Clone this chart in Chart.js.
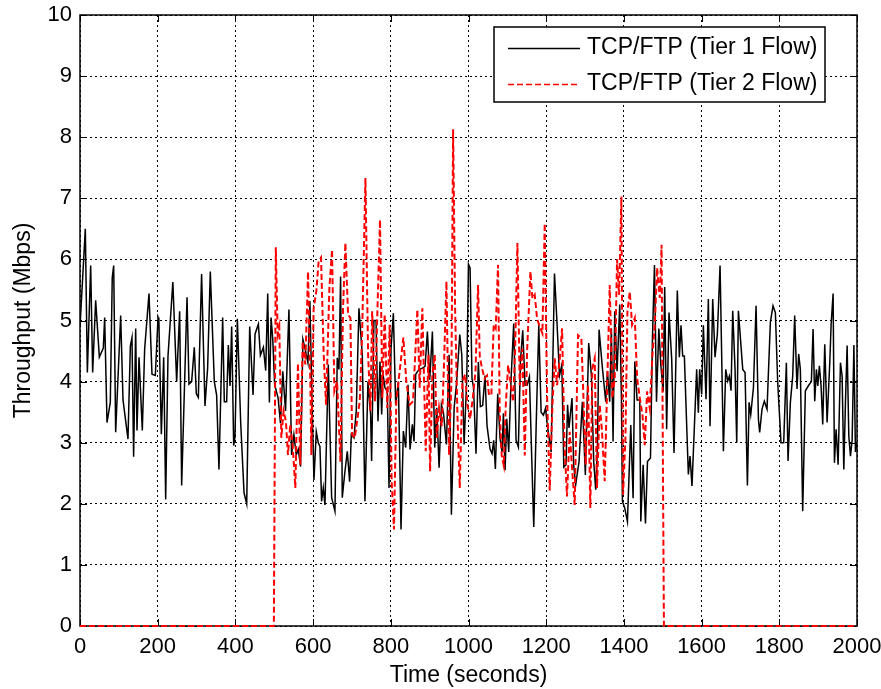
<!DOCTYPE html>
<html>
<head>
<meta charset="utf-8">
<script src="https://cdn.jsdelivr.net/npm/chart.js@4/dist/chart.umd.min.js"></script>
<style>
  html, body { margin: 0; padding: 0; background: #fff; }
  #wrap { width: 881px; height: 689px; }
</style>
</head>
<body>
<div id="wrap"><canvas id="grafico" width="881" height="689"></canvas></div>
<script>
// Tier 1 flow (black), runs the whole 2000 s
const tier1Times = [0, 13.7, 18.9, 27.5, 32.6, 40.3, 49.8, 60, 63.5, 69.5, 78, 83, 86.7, 91.8, 104.7, 110.7, 123.5, 129.6, 133.8, 138, 143.3, 146.7, 151.9, 160.4, 166.4, 177.6, 185.3, 193.9, 200.8, 203, 209.4, 215.4, 220.5, 226.5, 239, 248.8, 256.5, 261.7, 275.5, 280.5, 287.4, 294.2, 299.4, 304.6, 313, 321.7, 328.5, 335.4, 345.7, 351.7, 357.7, 367.2, 371.5, 377.5, 381.8, 386.1, 390.4, 395.6, 399, 405, 413.6, 422.2, 429.1, 436.8, 445.4, 450.6, 459.2, 464.3, 472, 478, 483.2, 487.5, 491.8, 496.1, 501, 510, 516, 522, 529, 537.8, 544.6, 550.6, 556.6, 561.8, 567.8, 573.8, 580.7, 586.7, 591.8, 596.1, 602.2, 608.2, 613.3, 617.6, 621.9, 626.2, 630.5, 639.1, 647.7, 656.2, 662.2, 666.5, 670.8, 675.1, 681.1, 688, 694, 698.3, 705.1, 711.1, 718, 726.6, 733.5, 741.2, 748, 750.6, 756.6, 762, 767, 772.2, 776.5, 780, 785, 791, 795.4, 800.6, 806.6, 812.6, 819.5, 826.3, 832.3, 838.3, 844.3, 849.5, 855.5, 859.8, 864.1, 872.7, 881.3, 888.2, 894.2, 900.2, 907.1, 913.1, 918.3, 924.3, 930.3, 935.5, 943.2, 950, 956, 963, 969, 977.5, 982.7, 988.7, 995.6, 999.9, 1004, 1009, 1013, 1019.3, 1025.4, 1030.5, 1036.5, 1042.5, 1047.7, 1055.4, 1060.6, 1064.9, 1069.2, 1075.2, 1081.2, 1086.4, 1089.8, 1094.1, 1098.4, 1103.5, 1109.6, 1116.4, 1122.4, 1128.4, 1133.6, 1139.6, 1145.6, 1150.8, 1156.8, 1162.8, 1168, 1174, 1180.9, 1186.9, 1192.9, 1198.1, 1204.1, 1212.7, 1221.3, 1227.3, 1234.2, 1240.2, 1245.3, 1251, 1255, 1258.7, 1266.4, 1270.7, 1275.9, 1284.5, 1293.1, 1300.8, 1309.4, 1316.3, 1322.3, 1327.5, 1331.8, 1336.1, 1344.7, 1353.3, 1357.6, 1363.5, 1367.8, 1372.1, 1376.4, 1382.4, 1389.3, 1393.6, 1396.2, 1402.2, 1409.1, 1417.7, 1423.7, 1428, 1434, 1440.9, 1443.5, 1449.5, 1455.5, 1460.7, 1468.4, 1473.5, 1478.7, 1483.9, 1489.9, 1495.1, 1501, 1505, 1510, 1516.1, 1523, 1529, 1537.5, 1542.7, 1547, 1551.3, 1555.6, 1565.9, 1570.2, 1575.3, 1587.3, 1591.6, 1595, 1600.2, 1604.5, 1611.4, 1617.4, 1621.7, 1628.6, 1634.6, 1640.6, 1647.5, 1656.1, 1662.1, 1667.2, 1671.5, 1675.8, 1680.1, 1686.1, 1690.4, 1694.7, 1705.9, 1711.9, 1717.9, 1722.2, 1726.5, 1733.4, 1740.2, 1746.3, 1749.5, 1755.5, 1761.5, 1768.4, 1777, 1783.8, 1789.9, 1795.8, 1804.4, 1811.3, 1818.2, 1822.5, 1828.5, 1834.5, 1839.6, 1845.6, 1849.9, 1854.2, 1860.2, 1867.1, 1875.7, 1882.6, 1886.9, 1891.2, 1895.5, 1899, 1903.2, 1907.5, 1911.8, 1917, 1923, 1929.9, 1933.4, 1938.5, 1941.9, 1946.2, 1951.4, 1957.4, 1961.7, 1966, 1970.3, 1974.6, 1978.9, 1983.2, 1987.5, 1992, 1996, 2000];
const tier1Values = [4.9, 6.5, 4.15, 5.9, 4.15, 5.33, 4.4, 4.55, 5.05, 3.33, 3.66, 5.7, 5.9, 3.17, 5.08, 3.7, 3.06, 4.58, 4.72, 2.77, 4.87, 3.2, 4.4, 3.2, 4.53, 5.44, 4.12, 4.1, 5.05, 5.0, 3.14, 4.4, 2.07, 4.42, 5.63, 4.0, 5.15, 2.3, 5.38, 3.96, 4.0, 4.56, 3.8, 3.74, 5.76, 3.6, 4.22, 5.8, 4.0, 3.78, 2.56, 5.05, 3.67, 3.67, 4.6, 3.93, 4.9, 2.95, 3.1, 5.03, 3.33, 2.18, 2.0, 4.9, 3.78, 4.78, 4.94, 4.43, 4.56, 4.18, 5.44, 3.66, 5.05, 4.7, 3.95, 3.73, 3.32, 4.17, 3.52, 5.18, 2.8, 3.13, 2.8, 2.89, 2.61, 4.69, 4.5, 4.31, 5.32, 4.0, 2.39, 3.18, 3.0, 2.94, 2.04, 2.26, 1.98, 4.28, 2.1, 1.88, 4.39, 4.2, 5.72, 2.1, 2.48, 2.86, 2.36, 3.13, 3.08, 3.52, 5.2, 4.44, 2.04, 4.0, 3.46, 2.7, 5.0, 5.0, 3.35, 4.33, 3.46, 4.12, 3.9, 3.84, 2.26, 4.55, 5.12, 3.62, 4.0, 1.58, 3.19, 2.92, 3.95, 2.89, 3.3, 3.02, 4.12, 4.2, 4.22, 4.25, 4.82, 4.03, 4.82, 2.92, 3.57, 2.59, 3.62, 3.49, 2.97, 4.44, 1.82, 3.57, 3.95, 4.77, 4.44, 2.97, 4.06, 5.92, 5.86, 4.05, 3.9, 2.82, 4.32, 3.59, 3.61, 4.1, 3.28, 2.9, 2.82, 3.04, 2.57, 3.8, 3.07, 2.85, 3.48, 2.55, 3.39, 2.85, 4.05, 4.95, 3.04, 2.93, 4.32, 4.84, 3.94, 3.94, 4.08, 2.74, 1.62, 3.23, 4.93, 3.5, 3.45, 3.56, 3.23, 2.85, 5.77, 5.03, 4.1, 4.27, 2.6, 2.64, 3.62, 3.24, 3.73, 2.64, 2.31, 2.69, 3.67, 2.47, 4.63, 4.11, 2.69, 2.23, 2.91, 4.85, 4.22, 3.67, 4.17, 3.67, 4.87, 3.02, 5.15, 4.17, 5.26, 3.73, 2.04, 1.93, 1.71, 3.29, 2.09, 4.33, 3.7, 3.7, 1.71, 2.64, 1.68, 2.69, 2.75, 4.71, 5.91, 3.67, 4.87, 4.27, 3.84, 5.55, 3.22, 5.13, 4.37, 2.83, 5.49, 4.4, 4.92, 4.42, 4.42, 2.48, 2.78, 2.29, 4.2, 3.49, 4.2, 3.79, 4.92, 3.71, 5.35, 3.27, 5.35, 4.4, 4.78, 5.9, 2.86, 4.2, 4.01, 4.09, 3.85, 5.16, 4.2, 3.0, 5.16, 4.2, 4.15, 2.3, 3.66, 3.46, 3.9, 5.24, 3.38, 3.17, 3.55, 3.68, 3.55, 4.97, 5.24, 5.13, 4.0, 3.0, 3.0, 4.31, 2.7, 3.66, 4.09, 5.08, 3.88, 4.45, 4.2, 1.88, 3.85, 3.94, 4.0, 4.86, 3.68, 4.2, 3.93, 4.26, 3.93, 3.3, 4.61, 3.33, 4.31, 4.94, 5.44, 2.67, 3.22, 2.64, 4.31, 4.09, 2.56, 3.66, 4.59, 3.11, 2.78, 3.05, 4.6, 2.85, 3.0];

// Tier 2 flow (red dashed), active between 500 s and 1500 s
const tier2Times = [0, 499, 504, 508.8, 513, 518.2, 524, 530, 535.3, 541.2, 547.3, 554.3, 561, 567, 573.2, 580, 587, 593, 595.4, 601.4, 608.4, 614.3, 620.4, 627.3, 633.3, 641.9, 648.8, 654.8, 661.7, 670.3, 677.1, 683.1, 690, 696, 700.4, 707.2, 713.2, 720.1, 726.1, 734.7, 741.6, 747.6, 752, 759.3, 765.3, 772.2, 778.2, 784.2, 791.1, 797.1, 802.2, 808.2, 814.2, 822.8, 832.3, 840, 848.6, 857.2, 868.4, 874.4, 881.2, 889.9, 896.8, 901.1, 907.1, 913.1, 918.3, 924.3, 931.2, 937.2, 943.2, 950, 956, 960.4, 965.5, 971.5, 977.5, 984.4, 991.3, 997.3, 1004, 1011, 1018, 1024.6, 1029, 1035, 1041.6, 1047.7, 1052.8, 1058.8, 1064.9, 1070, 1076, 1080.4, 1085.5, 1090.7, 1095.8, 1101.9, 1107.9, 1114.8, 1119.9, 1125.9, 1131.9, 1138.8, 1144.8, 1150.8, 1159.4, 1164.5, 1170.5, 1176.5, 1183.4, 1190.2, 1196.2, 1202.2, 1209.1, 1216, 1222, 1228, 1234.9, 1240.9, 1247, 1253.5, 1260.4, 1267.2, 1273.3, 1281.9, 1290.5, 1296.5, 1301.6, 1307.6, 1313.6, 1318.8, 1324.8, 1330.8, 1337.7, 1343.7, 1350.6, 1356.6, 1363.5, 1370.4, 1376.4, 1382.4, 1387.6, 1393.6, 1397.9, 1403.9, 1409.1, 1415.1, 1421.1, 1428, 1434, 1440.9, 1447.7, 1453.7, 1459.7, 1466.6, 1473.5, 1479.5, 1485.5, 1492.4, 1497, 1503, 2000];
const tier2Values = [0, 0, 6.2, 4.77, 4.9, 3.08, 3.52, 3.35, 2.8, 3.3, 2.97, 2.26, 4.3, 2.64, 4.66, 4.28, 5.8, 3.95, 2.8, 5.2, 5.48, 5.97, 6.03, 4.44, 3.62, 5.53, 6.16, 3.84, 4.0, 2.69, 5.2, 6.27, 5.1, 5.04, 3.13, 3.08, 3.35, 3.68, 4.77, 7.33, 4.44, 3.52, 5.15, 3.68, 5.1, 6.65, 3.73, 5.1, 3.57, 4.93, 2.37, 1.58, 3.68, 4.17, 4.72, 4.0, 3.62, 3.68, 5.18, 3.9, 5.2, 2.86, 4.44, 2.53, 4.12, 4.44, 3.08, 3.57, 3.27, 4.33, 5.64, 2.8, 4.0, 8.13, 5.2, 3.46, 2.26, 4.0, 4.12, 3.62, 3.39, 3.72, 4.16, 5.58, 4.41, 4.21, 4.05, 4.1, 3.78, 3.78, 4.93, 4.87, 5.91, 3.5, 2.79, 2.63, 3.59, 4.27, 4.0, 3.67, 4.49, 6.27, 3.94, 4.54, 2.79, 4.49, 5.8, 5.36, 5.42, 5.03, 4.9, 4.79, 6.59, 3.78, 2.22, 3.61, 4.38, 3.94, 4.38, 4.87, 3.0, 2.12, 3.18, 2.53, 1.98, 4.76, 4.71, 3.62, 2.64, 3.95, 1.93, 4.22, 4.38, 2.26, 3.62, 3.18, 2.37, 3.84, 5.58, 3.73, 4.06, 6.0, 5.42, 7.03, 2.15, 3.07, 5.15, 5.47, 4.93, 5.04, 4.06, 3.73, 3.46, 2.96, 3.84, 3.56, 4.44, 4.93, 5.86, 5.37, 6.24, 0, 0];

const nomes = ["TCP/FTP (Tier 1 Flow)", "TCP/FTP (Tier 2 Flow)"];
const cores = ["#000000", "#ff0000"];
const tracejados = [[], [6, 3]];

const fonte = "'Liberation Sans', Arial, sans-serif";

const pares = (ts, vs) => ts.map((t, i) => ({ x: t, y: vs[i] }));

// frame + inward ticks under the lines, boxed legend on top
const moldura = {
    id: "moldura",
    beforeDatasetsDraw(chart) {
        const { ctx, chartArea: a, scales } = chart;
        const tam = 7;
        ctx.save();
        ctx.strokeStyle = "#000";
        ctx.lineWidth = 1;
        ctx.setLineDash([]);
        ctx.beginPath();
        scales.x.ticks.forEach(t => {
            const x = Math.round(scales.x.getPixelForValue(t.value)) + 0.5;
            ctx.moveTo(x, a.bottom); ctx.lineTo(x, a.bottom - tam);
            ctx.moveTo(x, a.top); ctx.lineTo(x, a.top + tam);
        });
        scales.y.ticks.forEach(t => {
            const y = Math.round(scales.y.getPixelForValue(t.value)) + 0.5;
            ctx.moveTo(a.left, y); ctx.lineTo(a.left + tam, y);
            ctx.moveTo(a.right, y); ctx.lineTo(a.right - tam, y);
        });
        ctx.stroke();
        ctx.lineWidth = 1.5;
        ctx.strokeRect(a.left, a.top, a.right - a.left, a.bottom - a.top);
        ctx.restore();
    },
    afterDraw(chart) {
        const { ctx } = chart;
        ctx.save();
        const bx = 494, by = 27, bw = 331, bh = 75;
        ctx.fillStyle = "#fff";
        ctx.fillRect(bx, by, bw, bh);
        ctx.strokeStyle = "#000";
        ctx.lineWidth = 1.5;
        ctx.strokeRect(bx, by, bw, bh);
        ctx.font = "23px " + fonte;
        ctx.textBaseline = "middle";
        const linhas = [48, 84];
        chart.data.datasets.forEach((ds, i) => {
            const y = linhas[i] + 0.5;
            ctx.strokeStyle = ds.borderColor;
            ctx.lineWidth = 1.5;
            ctx.setLineDash(ds.borderDash || []);
            ctx.beginPath();
            ctx.moveTo(508, y); ctx.lineTo(580, y);
            ctx.stroke();
            ctx.setLineDash([]);
            ctx.fillStyle = "#000";
            ctx.fillText(ds.label, 587, linhas[i]);
        });
        ctx.restore();
    }
};

const grafico = new Chart(document.getElementById("grafico"), {
    type: "line",
    data: {
        datasets: [
            {
                label: nomes[0],
                data: pares(tier1Times, tier1Values),
                borderColor: cores[0],
                borderDash: tracejados[0],
                borderWidth: 1.5,
                pointRadius: 0,
                tension: 0,
                order: 1
            },
            {
                label: nomes[1],
                data: pares(tier2Times, tier2Values),
                borderColor: cores[1],
                borderDash: tracejados[1],
                borderWidth: 2,
                pointRadius: 0,
                tension: 0,
                clip: 3,
                order: 0
            }
        ]
    },
    options: {
        responsive: false,
        animation: false,
        parsing: false,
        layout: { padding: { top: 15, right: 24, left: 0, bottom: 0 } },
        plugins: {
            legend: { display: false },
            tooltip: { enabled: false }
        },
        scales: {
            x: {
                type: "linear",
                min: 0,
                max: 2000,
                ticks: {
                    stepSize: 200,
                    color: "#000",
                    padding: 8,
                    maxRotation: 0,
                    font: { family: fonte, size: 22 },
                    callback: v => String(v)
                },
                grid: { color: "#000", lineWidth: 1, drawTicks: false },
                border: { display: false, dash: [2, 3] },
                title: {
                    display: true,
                    text: "Time (seconds)",
                    color: "#000",
                    font: { family: fonte, size: 23 },
                    padding: { top: 0, bottom: 0 }
                },
                afterFit(s) { s.height = 63; s.paddingLeft = 0; s.paddingRight = 0; }
            },
            y: {
                min: 0,
                max: 10,
                ticks: {
                    stepSize: 1,
                    color: "#000",
                    padding: 8,
                    font: { family: fonte, size: 22 },
                    callback: v => String(v)
                },
                grid: { color: "#000", lineWidth: 1, drawTicks: false },
                border: { display: false, dash: [2, 3] },
                title: {
                    display: true,
                    text: "Throughput (Mbps)",
                    color: "#000",
                    font: { family: fonte, size: 23 },
                    padding: { top: 10, bottom: 0 }
                },
                afterFit(s) { s.width = 80; s.paddingTop = 0; s.paddingBottom = 0; }
            }
        }
    },
    plugins: [moldura]
});
</script>
</body>
</html>
